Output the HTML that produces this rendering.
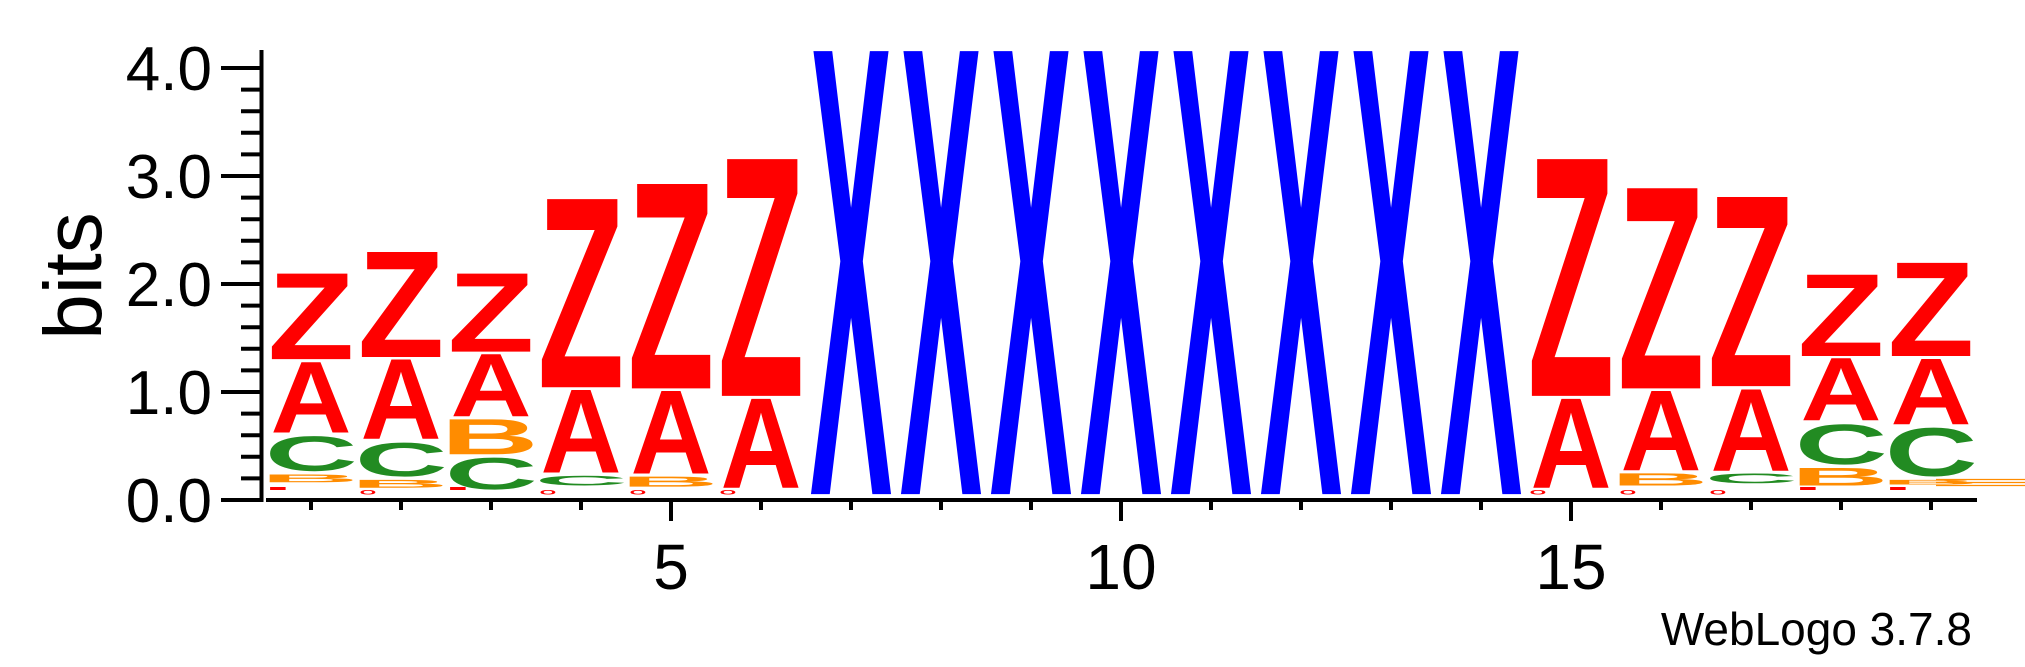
<!DOCTYPE html>
<html><head><meta charset="utf-8"><title>WebLogo</title>
<style>html,body{margin:0;padding:0;background:#fff;}svg{display:block;}</style>
</head><body>
<svg id="logo" xmlns="http://www.w3.org/2000/svg" width="2025" height="667" viewBox="0 0 2025 667" font-family="'Liberation Sans', Arial, sans-serif">
<g id="axes"></g>
<g id="stacks"></g>
<text x="0" y="0" font-size="82" text-anchor="middle" transform="translate(101,276) rotate(-90)">bits</text>
<text x="1972" y="645" font-size="46" text-anchor="end">WebLogo 3.7.8</text>
</svg>
<script>
// ---- data: letters stacked bottom->top per position, heights in bits ----
const positions = [1,2,3,4,5,6,7,8,9,10,11,12,13,14,15,16,17,18,19];
const stackBase = [0.15,0.10,0.08,0.12,0.11,0.10,0.04,0.04,0.04,0.04,0.04,0.04,0.04,0.04,0.10,0.12,0.14,0.12,0.13];
const stackLetters = [
  ["B","C","A","Z"],
  ["B","C","A","Z"],
  ["C","B","A","Z"],
  ["C","A","Z"],
  ["B","A","Z"],
  ["A","Z"],
  ["X"],["X"],["X"],["X"],["X"],["X"],["X"],["X"],
  ["A","Z"],
  ["B","A","Z"],
  ["C","A","Z"],
  ["B","C","A","Z"],
  ["B","C","A","Z"]
];
const stackHeights = [
  [0.10,0.36,0.68,0.82],
  [0.10,0.35,0.76,1.00],
  [0.33,0.35,0.60,0.75],
  [0.12,0.79,1.77],
  [0.12,0.79,1.92],
  [0.85,2.22],
  [4.13],[4.13],[4.13],[4.13],[4.13],[4.13],[4.13],[4.13],
  [0.85,2.22],
  [0.14,0.76,1.88],
  [0.12,0.78,1.78],
  [0.19,0.41,0.60,0.78],
  [0.07,0.49,0.63,0.89]
];
const tinyLetters = ["I","O","I","O","O","O","","","","","","","","","O","O","O","I","I"];
const yTicks = [0,1,2,3,4];
const yTickLabels = ["0.0","1.0","2.0","3.0","4.0"];
const xLabelPositions = [5,10,15];

// ---- layout ----
const NS = "http://www.w3.org/2000/svg";
const Y0 = 500, PX_PER_BIT = 108;
const X1 = 311, PX_PER_POS = 90, LETTER_W = 81;
function yScale(b){ return Y0 - b*PX_PER_BIT; }
function xScale(p){ return X1 + (p-1)*PX_PER_POS; }
const colors = {A:"#ff0000",Z:"#ff0000",O:"#ff0000",I:"#ff0000",B:"#ff8c00",C:"#228b22",X:"#0000ff"};
// bold ink metrics at font-size 100: left, right, top, bottom (above baseline)
const ink = {Z:[2.0,59.1,68.8,0],A:[0,72.2,68.8,0],B:[7.3,66.9,68.8,0],C:[4.4,67.4,70.8,-1.6],
             X:[0.5,66.2,68.8,0],O:[3.9,74.0,70.8,-1.6],I:[7.0,21.0,68.8,0]};

const axes = document.getElementById('axes');
const stacks = document.getElementById('stacks');
function mk(tag, attrs, parent){ const e=document.createElementNS(NS,tag); for(const k in attrs) e.setAttribute(k,attrs[k]); parent.appendChild(e); return e; }
function letter(L, x0, x1, yTop, yBot, parent){
  const m = ink[L];
  const sx = (x1-x0)/(m[1]-m[0]);
  const sy = (yBot-yTop)/(m[2]-m[3]);
  const tx = x0 - m[0]*sx;
  const ty = yBot + m[3]*sy;
  const t = mk('text',{x:0,y:0,'font-size':100,'font-weight':'bold',fill:colors[L],
    transform:'translate('+tx.toFixed(2)+','+ty.toFixed(2)+') scale('+sx.toFixed(4)+','+sy.toFixed(4)+')'},parent);
  t.textContent = L;
  return t;
}

// y axis
let yl = mk('line',{x1:261.5,y1:50,x2:261.5,y2:502,stroke:'#000','stroke-width':4},axes);


for(let i=0;i<=20;i++){
  const b = i*0.2, y = yScale(b);
  const major = (i%5===0);
  const t = mk('line',{x1: major?221:241, y1:y, x2:261, y2:y, stroke:'#000','stroke-width':4},axes);
  
  
}
yTicks.forEach((b,i)=>{
  const t = mk('text',{x:212,y:yScale(b)+22,'font-size':62,'text-anchor':'end'},axes);
  t.textContent = yTickLabels[i];
  
  
});
// x axis
let xl = mk('line',{x1:266,y1:500,x2:1977,y2:500,stroke:'#000','stroke-width':4},axes);


positions.forEach(p=>{
  const major = xLabelPositions.includes(p);
  const t = mk('line',{x1:xScale(p),y1:500,x2:xScale(p),y2: major?521:510,stroke:'#000','stroke-width':4},axes);
  
  
});
xLabelPositions.forEach(p=>{
  const t = mk('text',{x:xScale(p),y:589,'font-size':64,'text-anchor':'middle'},axes);
  t.textContent = String(p);
  
  
});

// stacks
positions.forEach((p,ci)=>{
  const g = mk('g',{},stacks);
  
  
  let cum = stackBase[ci];
  const x0 = xScale(p) - LETTER_W/2, x1 = xScale(p) + LETTER_W/2;
  stackLetters[ci].forEach((L,li)=>{
    const h = stackHeights[ci][li];
    const yBot = yScale(cum) - 1.5, yTop = yScale(cum+h) + 1.5;
    cum += h;
    if (yBot - yTop < 0.5) return;
    const t = letter(L, x0, x1, yTop, yBot, g);
    
    
  });
  const tl = tinyLetters[ci];
  if (tl) {
    const t = letter(tl, x0, x0+15, tl==='O'?490:487, tl==='O'?494.5:490, g);
    
    
  }
});
// trailing orange artifact lines after last column
[479.5,482.5,485.5].forEach(y=>{
  const l = mk('line',{x1:1936,y1:y,x2:2025,y2:y,stroke:'#ff8c00','stroke-width':1.2},stacks);
  
  
});
</script>
</body></html>
